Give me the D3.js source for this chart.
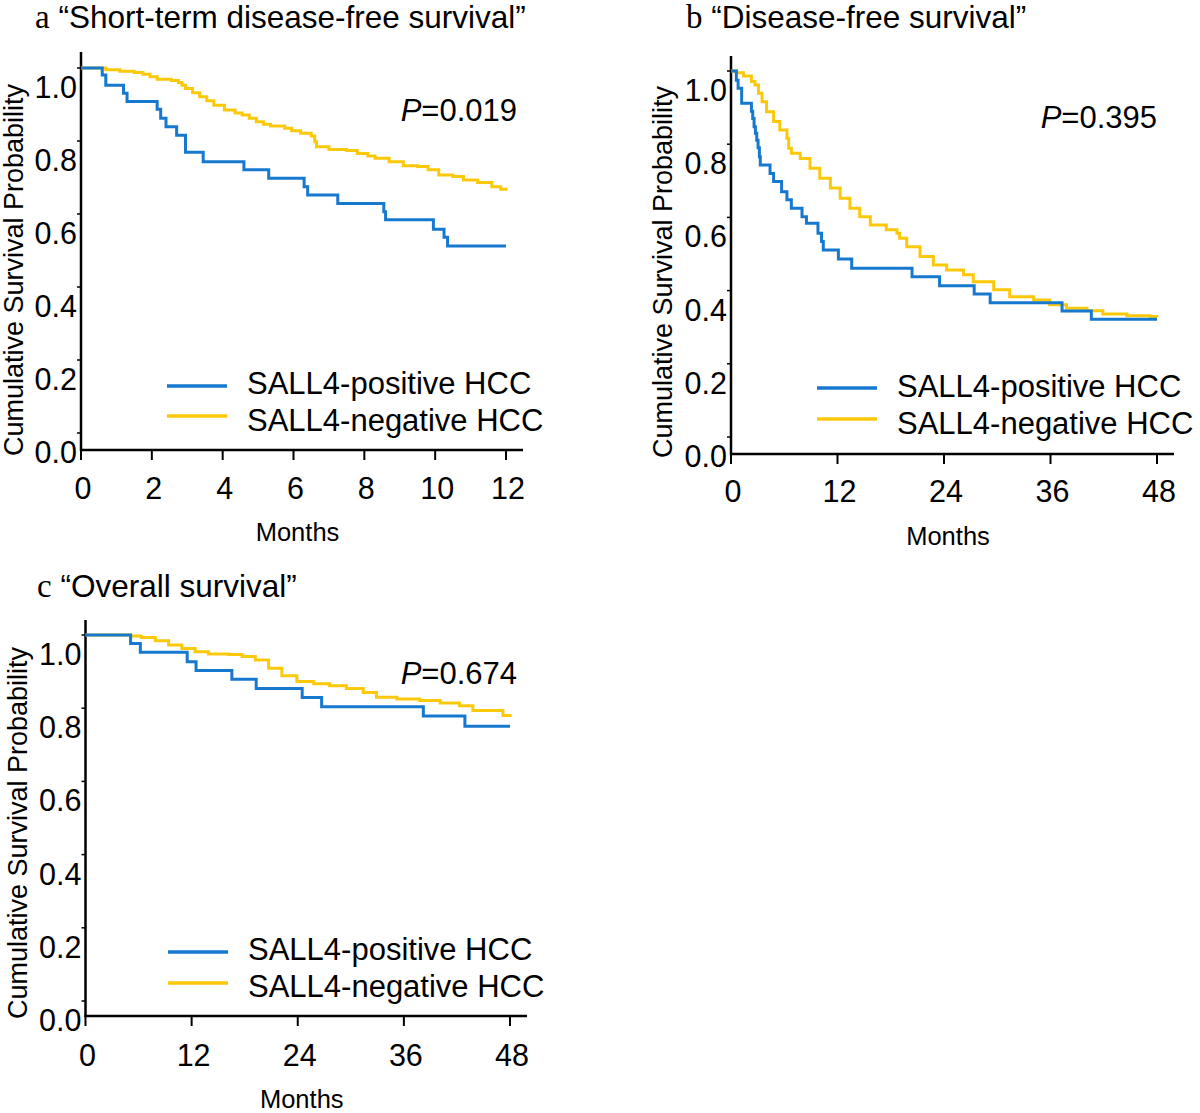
<!DOCTYPE html>
<html><head><meta charset="utf-8">
<script src="https://cdn.jsdelivr.net/npm/d3@7"></script>
<style>body{margin:0;background:#fff}svg{display:block}text{font-family:"Liberation Sans",Arial,sans-serif;fill:#000}</style>
</head><body>
<svg id="c" width="1200" height="1113"></svg>
<script>
// ---- data ----
const yTicks = [0, 0.2, 0.4, 0.6, 0.8, 1.0];
const xTicksA = [0, 2, 4, 6, 8, 10, 12];
const xTicksBC = [0, 12, 24, 36, 48];
const seriesNames = ["SALL4-positive HCC", "SALL4-negative HCC"];
const titles = ["\u201cShort-term disease-free survival\u201d", "\u201cDisease-free survival\u201d", "\u201cOverall survival\u201d"];
const letters = ["a", "b", "c"];
const pValues = ["0.019", "0.395", "0.674"];

// [month, survival]
const posA = [[0,1],[0.6,0.981],[0.7,0.953],[1.2,0.931],[1.3,0.908],[2.15,0.887],[2.25,0.862],[2.4,0.839],[2.7,0.816],[2.95,0.769],[3.45,0.743],[4.6,0.721],[5.3,0.698],[6.3,0.675],[6.4,0.652],[7.25,0.629],[8.55,0.606],[8.6,0.584],[9.95,0.558],[10.25,0.536],[10.35,0.512],[12,0.512]];
const negA = [[0,1],[0.7,0.995],[1.1,0.991],[1.5,0.988],[1.75,0.983],[1.95,0.976],[2.15,0.969],[2.55,0.966],[2.75,0.96],[2.85,0.953],[2.95,0.944],[3.15,0.932],[3.35,0.921],[3.55,0.91],[3.75,0.898],[4.05,0.885],[4.35,0.877],[4.55,0.871],[4.75,0.862],[4.95,0.853],[5.15,0.846],[5.35,0.841],[5.75,0.835],[5.95,0.828],[6.2,0.821],[6.5,0.814],[6.6,0.798],[6.65,0.784],[7.0,0.777],[7.5,0.774],[7.8,0.766],[8.1,0.759],[8.3,0.753],[8.7,0.743],[9.1,0.732],[9.5,0.73],[9.8,0.721],[10.1,0.707],[10.5,0.703],[10.8,0.693],[11.2,0.686],[11.6,0.675],[11.85,0.668],[12,0.664]];
const posB = [[0,1],[0.6,0.975],[0.8,0.953],[1.2,0.912],[2.3,0.89],[2.45,0.87],[2.6,0.848],[2.75,0.83],[2.9,0.811],[3.05,0.79],[3.2,0.766],[3.3,0.743],[4.4,0.72],[4.8,0.698],[5.7,0.67],[6.3,0.648],[6.8,0.625],[8.0,0.602],[8.5,0.584],[9.8,0.557],[10.2,0.534],[10.4,0.511],[12.1,0.486],[13.6,0.461],[20.4,0.438],[23.5,0.413],[27.4,0.391],[29.2,0.367],[37.3,0.344],[40.6,0.322],[48,0.322]];
const negB = [[0,1],[0.6,0.995],[1.4,0.986],[2.3,0.971],[2.7,0.962],[3.1,0.939],[3.5,0.916],[4.0,0.889],[4.8,0.862],[5.5,0.839],[6.3,0.816],[6.5,0.789],[6.8,0.775],[7.8,0.761],[8.9,0.734],[10.0,0.707],[11.2,0.68],[12.3,0.652],[13.4,0.625],[14.5,0.602],[15.7,0.579],[17.5,0.566],[18.7,0.557],[19.0,0.543],[19.8,0.52],[21.3,0.493],[22.8,0.47],[24.3,0.456],[26.2,0.443],[27.3,0.424],[29.6,0.402],[31.4,0.383],[34.1,0.374],[35.9,0.361],[37.8,0.352],[40.1,0.345],[41.9,0.336],[44.6,0.331],[47.2,0.329],[48,0.328]];
const posC = [[0,1],[5.1,0.977],[6.2,0.953],[11.5,0.927],[12.5,0.903],[16.55,0.879],[19.3,0.854],[24.5,0.829],[26.7,0.804],[38.2,0.779],[42.9,0.751],[48,0.751]];
const negC = [[0,1],[5.1,0.997],[6.3,0.993],[7.9,0.984],[9.4,0.973],[10.9,0.963],[12.4,0.954],[13.9,0.948],[16.2,0.947],[17.7,0.941],[19.2,0.932],[20.7,0.909],[22.2,0.889],[23.9,0.873],[25.8,0.867],[27.6,0.861],[29.5,0.854],[31.4,0.843],[32.9,0.83],[35.2,0.825],[37.8,0.821],[40.1,0.814],[42.3,0.807],[43.8,0.794],[47.2,0.78],[48,0.776]];

const colors = ["#1778cf", "#fbc90a"];

// ---- layout ----
const panels = [
  {letter:letters[0], title:titles[0], p:pValues[0], xMax:12, ticks:xTicksA, pos:posA, neg:negA,
   x0:81, x1:506, axEnd:523, yTop:68, yBot:433, axisY:450, yAxisTop:52, titleX:35, titleY:28,
   pX:517, pY:121, legX:167, legLines:[386,416], legText:[394,431], yLabX:23, ylabCY:270, monthsY:541, tickLabY:499},
  {letter:letters[1], title:titles[1], p:pValues[1], xMax:48, ticks:xTicksBC, pos:posB, neg:negB,
   x0:731, x1:1157, axEnd:1174, yTop:71, yBot:437, axisY:454, yAxisTop:56, titleX:686, titleY:28,
   pX:1157, pY:128, legX:817, legLines:[388,419], legText:[397,434], yLabX:672, ylabCY:272, monthsY:545, tickLabY:502},
  {letter:letters[2], title:titles[2], p:pValues[2], xMax:48, ticks:xTicksBC, pos:posC, neg:negC,
   x0:85.5, x1:510, axEnd:527, yTop:635, yBot:1001, axisY:1016, yAxisTop:620, titleX:37, titleY:597,
   pX:517, pY:684, legX:168, legLines:[952,983], legText:[960,997], yLabX:27, ylabCY:833, monthsY:1108, tickLabY:1066}
];

const svg = d3.select("#c");

panels.forEach(P => {
  const g = svg.append("g");
  const x = d3.scaleLinear().domain([0, P.xMax]).range([P.x0, P.x1]);
  const y = d3.scaleLinear().domain([0, 1]).range([P.yBot, P.yTop]);

  // title
  const t = g.append("text").attr("x", P.titleX).attr("y", P.titleY).style("font-size", "31.5px");
  t.append("tspan").text(P.letter).style("font-family", "'Liberation Serif','Times New Roman',serif").style("font-size","33px");
  t.append("tspan").text(" " + P.title);

  // y axis line
  g.append("line").attr("x1", P.x0).attr("x2", P.x0).attr("y1", P.yAxisTop).attr("y2", P.axisY + 1)
    .attr("stroke", "#000").attr("stroke-width", 2.5);
  // x axis line
  g.append("line").attr("x1", P.x0 - 1).attr("x2", P.axEnd).attr("y1", P.axisY).attr("y2", P.axisY)
    .attr("stroke", "#000").attr("stroke-width", 2.5);

  // y ticks (short marks left of axis) and labels offset below
  yTicks.forEach(v => {
    g.append("line").attr("x1", P.x0 - 4).attr("x2", P.x0).attr("y1", y(v)).attr("y2", y(v))
      .attr("stroke", "#000").attr("stroke-width", 1.5);
    g.append("text").attr("x", P.x0 - 4).attr("y", y(v) + 30).attr("text-anchor", "end")
      .style("font-size", "30.5px").text(d3.format(".1f")(v));
  });

  // x ticks
  P.ticks.forEach(v => {
    g.append("line").attr("x1", x(v)).attr("x2", x(v)).attr("y1", P.axisY).attr("y2", P.axisY + 10)
      .attr("stroke", "#000").attr("stroke-width", 2);
    g.append("text").attr("x", x(v) + 2).attr("y", P.tickLabY).attr("text-anchor", "middle")
      .style("font-size", "30.5px").text(v);
  });

  // axis titles
  g.append("text").attr("x", (P.x0 + P.x1) / 2 + 4).attr("y", P.monthsY).attr("text-anchor", "middle")
    .style("font-size", "25.5px").text("Months");
  g.append("text").attr("transform", `translate(${P.yLabX},${P.ylabCY}) rotate(-90)`)
    .attr("text-anchor", "middle").style("font-size", "27px").text("Cumulative Survival Probability");

  // curves
  const line = d3.line().x(d => x(d[0])).y(d => y(d[1])).curve(d3.curveStepAfter);
  [P.neg, P.pos].forEach((s, i) => {
    g.append("path").datum(s).attr("d", line).attr("fill", "none")
      .attr("stroke", i === 0 ? colors[1] : colors[0]).attr("stroke-width", 3);
  });

  // P value
  const pt = g.append("text").attr("x", P.pX).attr("y", P.pY).attr("text-anchor", "end").style("font-size", "31px");
  pt.append("tspan").text("P").style("font-style", "italic");
  pt.append("tspan").text("=" + P.p);

  // legend
  seriesNames.forEach((name, i) => {
    g.append("line").attr("x1", P.legX).attr("x2", P.legX + 60).attr("y1", P.legLines[i]).attr("y2", P.legLines[i])
      .attr("stroke", colors[i]).attr("stroke-width", 3.5);
    g.append("text").attr("x", P.legX + 80).attr("y", P.legText[i]).style("font-size", "31px").text(name);
  });
});
</script>
</body></html>
